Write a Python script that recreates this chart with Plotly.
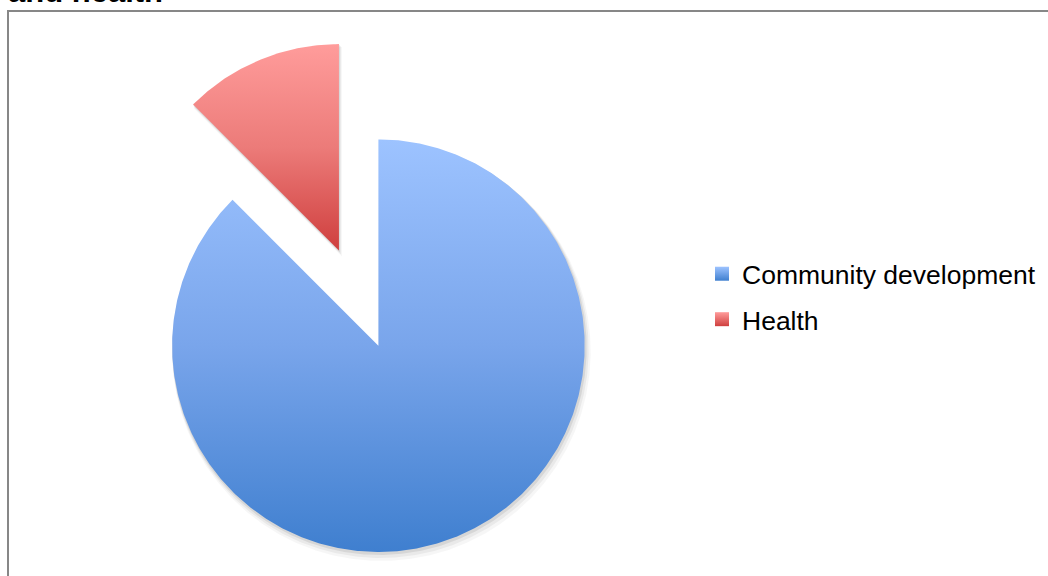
import numpy as np
import plotly.graph_objects as go

# Pie data
categories = ["Community development", "Health"]
values = [7, 1]
pulls = [0.0, 0.5]

# Vertical gradient per slice (top -> middle -> bottom)
top_colors = ["#9DC3FF", "#FF9C9B"]
mid_colors = ["#79A5EB", "#EC7B79"]
bottom_colors = ["#3F7FCF", "#CF3F3E"]

# Page geometry (pixels)
W, H = 1048, 576
R_PX = 206.3                 # pie radius in px
CX, CY = 378.4, 345.7        # pie centre, px from top-left
U = 1.0 / R_PX               # one pixel in data units (radius = 1)


def sector(a0, a1, dx=0.0, dy=0.0, r=1.0):
    """Closed wedge polygon; angles in degrees, clockwise from 12 o'clock."""
    n = max(int(720 * (a1 - a0) / 360), 12)
    t = np.radians(np.linspace(a0, a1, n))
    xs = np.concatenate([[0.0], r * np.sin(t), [0.0]]) + dx
    ys = np.concatenate([[0.0], r * np.cos(t), [0.0]]) + dy
    return xs, ys


total = float(sum(values))
bounds = np.concatenate([[0.0], np.cumsum(values) / total * 360.0])

wedges = []
for i, cat in enumerate(categories):
    a0, a1 = bounds[i], bounds[i + 1]
    mid = np.radians((a0 + a1) / 2)
    dx, dy = pulls[i] * np.sin(mid), pulls[i] * np.cos(mid)
    wedges.append((cat, a0, a1, dx, dy))

fig = go.Figure()

# soft drop shadow under each wedge
shadow_layers = [(6, 3.0, 0.035), (4, 2.0, 0.05), (2, 1.0, 0.08)]
for cat, a0, a1, dx, dy in wedges:
    for off, grow, alpha in shadow_layers:
        xs, ys = sector(a0, a1, dx + 0.5 * off * U, dy - off * U, 1.0 + grow * U)
        fig.add_trace(go.Scatter(
            x=xs, y=ys, mode="lines", line=dict(width=0),
            fill="toself", fillcolor=f"rgba(0,0,0,{alpha})",
            hoverinfo="skip", showlegend=False, legendgroup=cat,
        ))

# the wedges themselves
for i, (cat, a0, a1, dx, dy) in enumerate(wedges):
    xs, ys = sector(a0, a1, dx, dy)
    fig.add_trace(go.Scatter(
        x=xs, y=ys, mode="lines", line=dict(width=0),
        fill="toself",
        fillgradient=dict(
            type="vertical",
            colorscale=[[0, bottom_colors[i]], [0.5, mid_colors[i]], [1, top_colors[i]]],
        ),
        name=cat, legendgroup=cat, showlegend=False,
        hoveron="fills", hoverinfo="name",
    ))

# legend keys: small gradient squares
for i, cat in enumerate(categories):
    fig.add_trace(go.Scatter(
        x=[None], y=[None], mode="markers", name=cat, legendgroup=cat,
        marker=dict(symbol="square", size=14, color=top_colors[i],
                    gradient=dict(type="vertical", color=bottom_colors[i]),
                    line=dict(width=0)),
    ))

fig.update_layout(
    width=W, height=H,
    margin=dict(l=0, r=0, t=0, b=0),
    paper_bgcolor="white", plot_bgcolor="white",
    xaxis=dict(visible=False, range=[-CX * U, (W - CX) * U], fixedrange=True),
    yaxis=dict(visible=False, range=[-(H - CY) * U, CY * U], fixedrange=True),
    font=dict(family="Liberation Sans, Arial, sans-serif", color="black"),
    legend=dict(
        x=702 / W, xanchor="left", y=1 - 250 / H, yanchor="top",
        font=dict(size=26.5, color="black"),
        bgcolor="rgba(0,0,0,0)", borderwidth=0,
        tracegroupgap=8, traceorder="grouped",
    ),
    showlegend=True,
    shapes=[dict(
        type="rect", xref="paper", yref="paper", layer="below",
        x0=8 / W, x1=1.05, y0=-0.05, y1=1 - 11 / H,
        line=dict(color="#878787", width=2), fillcolor="rgba(0,0,0,0)",
    )],
    annotations=[dict(
        text="<b>and health</b>", showarrow=False,
        xref="paper", yref="paper", x=8 / W, xanchor="left",
        y=1 - 9.0 / H, yanchor="bottom",
        borderpad=0, borderwidth=0,
        font=dict(size=31, color="black", family="Liberation Sans, Arial, sans-serif"),
    )],
)

fig.write_html("out.html")
